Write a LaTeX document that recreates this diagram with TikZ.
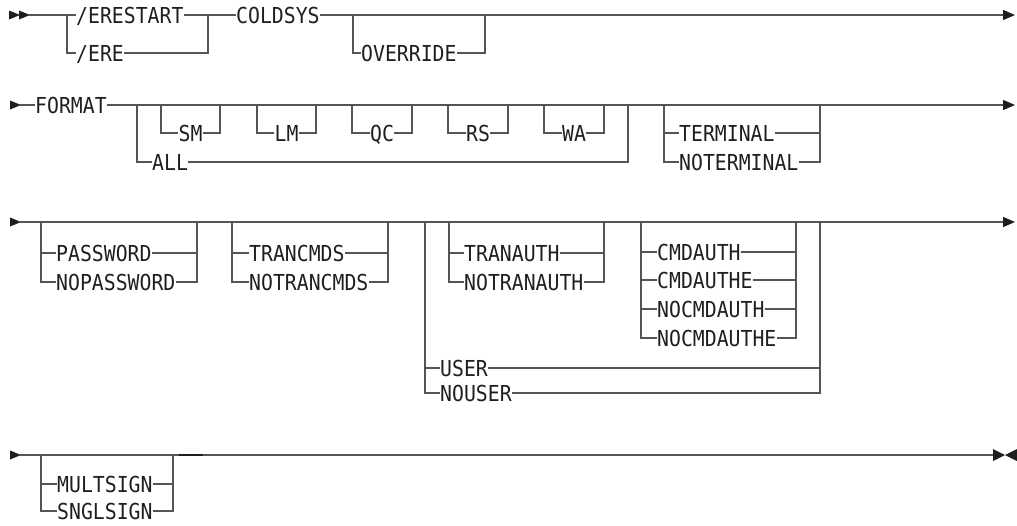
\documentclass[tikz,border=0pt]{standalone}
\usepackage{fontspec}
\usepackage{tikz}
\usetikzlibrary{
  arrows.meta,
  positioning,
  calc
}
\newfontfamily\railfont[FakeStretch=0.9]{DejaVu Sans Mono}
\definecolor{rrLine}{HTML}{555555}
\definecolor{rrText}{HTML}{1F1F1F}
\definecolor{rrTip}{HTML}{1E1E1E}
\tikzset{
  kw/.style={
    font=\railfont\fontsize{22pt}{25pt}\selectfont, text=rrText,
    inner xsep=0pt, inner ysep=0pt, text height=16pt, text depth=0pt, anchor=west
  },
  rail/.style={draw=rrLine, line width=1.3pt},
  railend/.style={rail, -{Triangle[length=12pt, width=10pt, color=rrTip]}},
  fwd/.pic={\fill[rrTip] (0,-4.5) -- (11,0) -- (0,4.5) -- cycle;},
  stopper/.pic={\fill[rrTip] (0,-6) -- (12,0) -- (0,6) -- cycle (24,-6) -- (12,0) -- (24,6) -- cycle;},
  bump/.style={draw=rrTip, line width=2.5pt}
}

\begin{document}
\begin{tikzpicture}[x=1pt, y=-1pt]
  \useasboundingbox (0,0) rectangle (1017,525);

  % row 1: /ERESTART COLDSYS
  \pic at (9,15) {fwd};
  \pic at (19,15) {fwd};
  \coordinate (s1) at (29,15);
  \coordinate (e1) at (1015,15);
  \coordinate (eraL) at (67,15);
  \coordinate (eraR) at (208,15);
  \coordinate (ovrL) at (353,15);
  \coordinate (ovrR) at (485,15);
  \node[kw] (erestart) at (76,15) {/ERESTART};
  \node[kw] (ere) at (76,53) {/ERE};
  \node[kw] (coldsys) at (236,15) {COLDSYS};
  \node[kw] (override) at (361,53) {OVERRIDE};
  \draw[rail] (s1) -- (erestart.west) (erestart.east) -- (coldsys.west);
  \draw[rail] (eraL) |- (ere.west) (ere.east) -| (eraR);
  \draw[railend] (coldsys.east) -- (e1);
  \draw[rail] (ovrL) |- (override.west) (override.east) -| (ovrR);

  % row 2: FORMAT
  \pic at (10,105) {fwd};
  \coordinate (s2) at (20,105);
  \coordinate (e2) at (1015,105);
  \coordinate (fmtL) at (137,105);
  \coordinate (fmtR) at (628,105);
  \coordinate (termL) at (664,105);
  \coordinate (termR) at (820,105);
  \node[kw] (format) at (35,105) {FORMAT};
  \node[kw] (all) at (152,162) {ALL};
  \node[kw] (terminal) at (679,133) {TERMINAL};
  \node[kw] (noterminal) at (679,162) {NOTERMINAL};
  \draw[rail] (s2) -- (format.west);
  \draw[railend] (format.east) -- (e2);
  \draw[rail] (fmtL) |- (all.west) (all.east) -| (fmtR);
  \foreach \kwd/\lx/\rx in {SM/161/220, LM/257/316, QC/352/412, RS/448/508, WA/544/604} {
    \coordinate (\kwd-l) at (\lx,105);
    \coordinate (\kwd-r) at (\rx,105);
    \node[kw, anchor=center] (\kwd) at ({(\lx+\rx)/2},133) {\kwd};
    \draw[rail] (\kwd-l) |- (\kwd.west) (\kwd.east) -| (\kwd-r);
  }
  \foreach \n in {terminal, noterminal}
    \draw[rail] (termL) |- (\n.west) (\n.east) -| (termR);

  % row 3: PASSWORD ... USER
  \pic at (10,222) {fwd};
  \coordinate (s3) at (20,222);
  \coordinate (e3) at (1015,222);
  \coordinate (pwdL) at (41,222);
  \coordinate (pwdR) at (197,222);
  \coordinate (tcL) at (232,222);
  \coordinate (tcR) at (388,222);
  \coordinate (usrL) at (425,222);
  \coordinate (usrR) at (820,222);
  \coordinate (taL) at (449,222);
  \coordinate (taR) at (604,222);
  \coordinate (caL) at (641,222);
  \coordinate (caR) at (796,222);
  \draw[railend] (s3) -- (e3);
  \node[kw] (password) at (56,253) {PASSWORD};
  \node[kw] (nopassword) at (56,282) {NOPASSWORD};
  \node[kw] (trancmds) at (249,253) {TRANCMDS};
  \node[kw] (notrancmds) at (249,282) {NOTRANCMDS};
  \node[kw] (tranauth) at (464,253) {TRANAUTH};
  \node[kw] (notranauth) at (464,282) {NOTRANAUTH};
  \node[kw] (cmdauth) at (657,252) {CMDAUTH};
  \node[kw] (cmdauthe) at (657,280) {CMDAUTHE};
  \node[kw] (nocmdauth) at (657,309) {NOCMDAUTH};
  \node[kw] (nocmdauthe) at (657,338) {NOCMDAUTHE};
  \node[kw] (user) at (440,368) {USER};
  \node[kw] (nouser) at (440,393) {NOUSER};
  \foreach \n in {password, nopassword}
    \draw[rail] (pwdL) |- (\n.west) (\n.east) -| (pwdR);
  \foreach \n in {trancmds, notrancmds}
    \draw[rail] (tcL) |- (\n.west) (\n.east) -| (tcR);
  \foreach \n in {tranauth, notranauth}
    \draw[rail] (taL) |- (\n.west) (\n.east) -| (taR);
  \foreach \n in {cmdauth, cmdauthe, nocmdauth, nocmdauthe}
    \draw[rail] (caL) |- (\n.west) (\n.east) -| (caR);
  \foreach \n in {user, nouser}
    \draw[rail] (usrL) |- (\n.west) (\n.east) -| (usrR);

  % row 4: MULTSIGN
  \pic at (10,455) {fwd};
  \coordinate (s4) at (20,455);
  \coordinate (e4) at (994,455);
  \coordinate (multL) at (41,455);
  \coordinate (multR) at (173,455);
  \coordinate (bumpA) at (179,455);
  \coordinate (bumpB) at (203,455);
  \node[kw] (multsign) at (57,484) {MULTSIGN};
  \node[kw] (snglsign) at (57,511) {SNGLSIGN};
  \draw[rail] (s4) -- (e4);
  \draw[bump] (bumpA) -- (bumpB);
  \foreach \n in {multsign, snglsign}
    \draw[rail] (multL) |- (\n.west) (\n.east) -| (multR);
  \pic at (993,455) {stopper};
\end{tikzpicture}
\end{document}
